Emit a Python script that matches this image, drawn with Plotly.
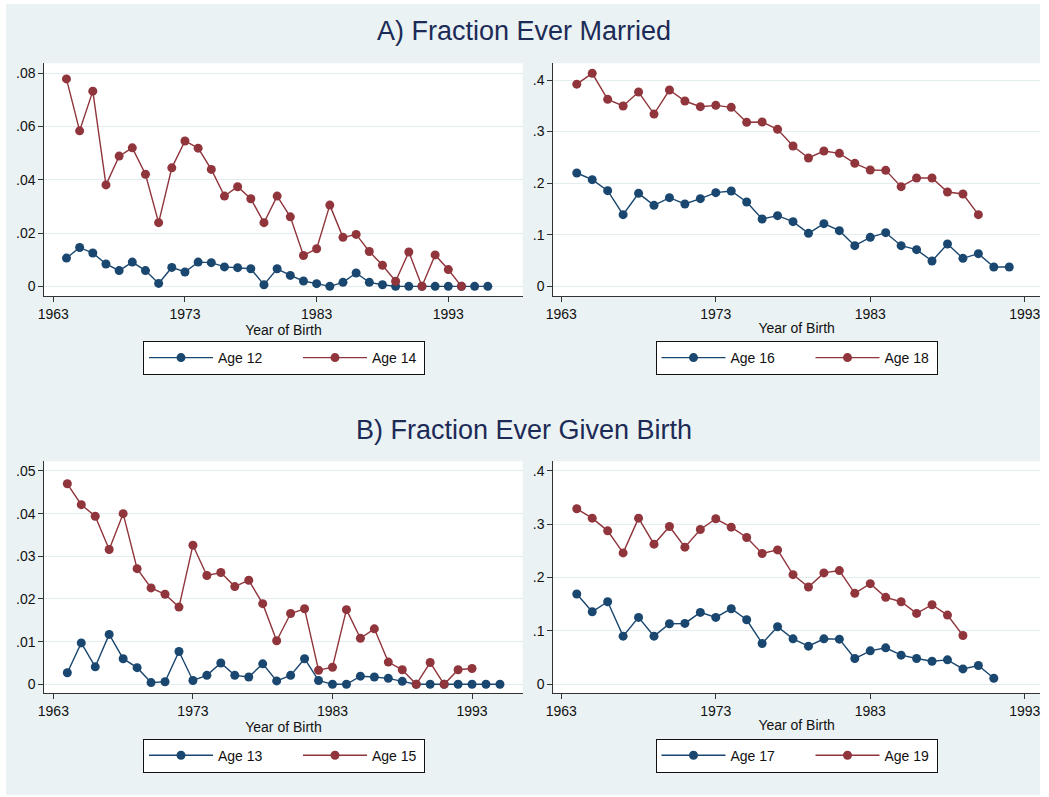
import plotly.graph_objects as go

# ---------------- data ----------------
birth_years = [1964, 1965, 1966, 1967, 1968, 1969, 1970, 1971, 1972, 1973,
               1974, 1975, 1976, 1977, 1978, 1979, 1980, 1981, 1982, 1983,
               1984, 1985, 1986, 1987, 1988, 1989, 1990, 1991, 1992, 1993,
               1994, 1995, 1996]

# Panel A: Fraction ever married
married_age12 = [0.0106, 0.0146, 0.0125, 0.0084, 0.0059, 0.0091, 0.0059, 0.0011, 0.0071, 0.0054,
                 0.0091, 0.0089, 0.0073, 0.0070, 0.0066, 0.0006, 0.0066, 0.0041, 0.0020, 0.0010,
                 0.0000, 0.0015, 0.0050, 0.0015, 0.0006, 0.0, 0.0, 0.0, 0.0, 0.0,
                 0.0, 0.0, 0.0]
married_age14 = [0.0779, 0.0584, 0.0733, 0.0381, 0.0489, 0.0520, 0.0421, 0.0239, 0.0445, 0.0546,
                 0.0519, 0.0439, 0.0339, 0.0374, 0.0329, 0.0239, 0.0339, 0.0261, 0.0116, 0.0141,
                 0.0305, 0.0184, 0.0195, 0.0131, 0.0079, 0.0019, 0.0129, 0.0, 0.0118, 0.0063,
                 0.0]
married_age16 = [0.2197, 0.2068, 0.1855, 0.1389, 0.1803, 0.1570, 0.1719, 0.1596, 0.1700, 0.1816,
                 0.1848, 0.1635, 0.1305, 0.1370, 0.1254, 0.1027, 0.1215, 0.1079, 0.0788, 0.0950,
                 0.1040, 0.0788, 0.0711, 0.0491, 0.0821, 0.0543, 0.0633, 0.0375, 0.0375]
married_age18 = [0.3920, 0.4130, 0.3625, 0.3496, 0.3767, 0.3340, 0.3806, 0.3593, 0.3483, 0.3509,
                 0.3470, 0.3180, 0.3186, 0.3044, 0.2720, 0.2488, 0.2624, 0.2578, 0.2385, 0.2255,
                 0.2249, 0.1932, 0.2100, 0.2100, 0.1829, 0.1790, 0.1389]

# Panel B: Fraction ever given birth
birth_age13 = [0.0027, 0.0097, 0.0041, 0.0117, 0.0060, 0.0039, 0.0004, 0.0006, 0.0077, 0.0009,
               0.0021, 0.0050, 0.0021, 0.0017, 0.0048, 0.0008, 0.0021, 0.0060, 0.0009, 0.0,
               0.0, 0.0019, 0.0017, 0.0014, 0.0007, 0.0, 0.0, 0.0, 0.0, 0.0,
               0.0, 0.0]
birth_age15 = [0.0470, 0.0421, 0.0394, 0.0316, 0.0400, 0.0271, 0.0226, 0.0211, 0.0181, 0.0326,
               0.0255, 0.0262, 0.0229, 0.0244, 0.0189, 0.0102, 0.0166, 0.0177, 0.0033, 0.0040,
               0.0175, 0.0108, 0.0130, 0.0052, 0.0034, 0.0, 0.0051, 0.0, 0.0034, 0.0037]
birth_age17 = [0.1690, 0.1358, 0.1546, 0.0901, 0.1252, 0.0901, 0.1133, 0.1139, 0.1346, 0.1252,
               0.1415, 0.1208, 0.0764, 0.1077, 0.0851, 0.0714, 0.0851, 0.0845, 0.0482, 0.0626,
               0.0682, 0.0545, 0.0482, 0.0432, 0.0457, 0.0288, 0.0351, 0.0113]
birth_age19 = [0.3286, 0.3111, 0.2873, 0.2460, 0.3111, 0.2623, 0.2955, 0.2567, 0.2898, 0.3099,
               0.2942, 0.2748, 0.2448, 0.2516, 0.2053, 0.1822, 0.2085, 0.2128, 0.1703, 0.1884,
               0.1628, 0.1546, 0.1327, 0.1490, 0.1296, 0.0914]

x_tick_vals = [1963, 1973, 1983, 1993]
x_tick_text = ["1963", "1973", "1983", "1993"]
y_ticks_a_left = [0, 0.02, 0.04, 0.06, 0.08]
y_text_a_left = ["0", ".02", ".04", ".06", ".08"]
y_ticks_right = [0, 0.1, 0.2, 0.3, 0.4]
y_text_right = ["0", ".1", ".2", ".3", ".4"]
y_ticks_b_left = [0, 0.01, 0.02, 0.03, 0.04, 0.05]
y_text_b_left = ["0", ".01", ".02", ".03", ".04", ".05"]

title_a = "A) Fraction Ever Married"
title_b = "B) Fraction Ever Given Birth"
x_title = "Year of Birth"

# ---------------- styling ----------------
W, H = 1049, 797
NAVY = "#1A476F"
MAROON = "#90353B"
BG = "#EAF2F3"
GRID = "#E3ECEE"
AXIS = "#333333"
TITLE_COLOR = "#1C2B56"
FONT = "Liberation Sans, Arial, Helvetica, sans-serif"
FS = 14


def px_x(p):
    return p / W


def px_y(p):
    return 1 - p / H


fig = go.Figure()

# (values, name, colour, xaxis, yaxis, legend, legend entry width px)
series = [
    (married_age12, "Age 12", NAVY, "x", "y", "legend", 75),
    (married_age14, "Age 14", MAROON, "x", "y", "legend", 47),
    (married_age16, "Age 16", NAVY, "x2", "y2", "legend2", 75),
    (married_age18, "Age 18", MAROON, "x2", "y2", "legend2", 47),
    (birth_age13, "Age 13", NAVY, "x3", "y3", "legend3", 75),
    (birth_age15, "Age 15", MAROON, "x3", "y3", "legend3", 47),
    (birth_age17, "Age 17", NAVY, "x4", "y4", "legend4", 75),
    (birth_age19, "Age 19", MAROON, "x4", "y4", "legend4", 47),
]
for vals, name, color, xa, ya, lg, lw in series:
    fig.add_trace(go.Scatter(
        x=birth_years[:len(vals)], y=vals, name=name, mode="lines+markers",
        line=dict(color=color, width=1.4),
        marker=dict(color=color, size=9, symbol="circle"),
        xaxis=xa, yaxis=ya, legend=lg, showlegend=True, legendwidth=lw,
    ))

left_dom = [px_x(44.3), px_x(522.7)]
right_dom = [px_x(553.3), px_x(1040)]
top_dom = [px_y(296), px_y(63.3)]
bot_dom = [px_y(693.3), px_y(461.3)]

common_x = dict(
    tickmode="array", tickvals=x_tick_vals, ticktext=x_tick_text,
    showline=True, linecolor=AXIS, linewidth=1, ticks="outside", ticklen=5,
    tickcolor=AXIS, tickwidth=1, showgrid=False, zeroline=False,
    tickfont=dict(size=FS, color="#111111", family=FONT),
    title=dict(text=x_title, font=dict(size=FS, color="#111111", family=FONT), standoff=2),
    automargin=False, fixedrange=True,
)
common_y = dict(
    tickmode="array", showline=True, linecolor=AXIS, linewidth=1, ticks="outside",
    ticklen=5, tickcolor=AXIS, tickwidth=1, showgrid=True, gridcolor=GRID, gridwidth=1,
    zeroline=False, tickfont=dict(size=FS, color="#111111", family=FONT),
    automargin=False, fixedrange=True,
)

fig.update_layout(
    xaxis=dict(common_x, domain=left_dom, anchor="y", range=[1962.316, 1998.65]),
    yaxis=dict(common_y, domain=top_dom, anchor="x", range=[-0.00363, 0.08376],
               tickvals=y_ticks_a_left, ticktext=y_text_a_left),
    xaxis2=dict(common_x, domain=right_dom, anchor="y2", range=[1962.48, 1993.99]),
    yaxis2=dict(common_y, domain=top_dom, anchor="x2", range=[-0.01874, 0.4324],
                tickvals=y_ticks_right, ticktext=y_text_right),
    xaxis3=dict(common_x, domain=left_dom, anchor="y3", range=[1962.35, 1996.63]),
    yaxis3=dict(common_y, domain=bot_dom, anchor="x3", range=[-0.00211, 0.05227],
                tickvals=y_ticks_b_left, ticktext=y_text_b_left),
    xaxis4=dict(common_x, domain=right_dom, anchor="y4", range=[1962.48, 1993.99]),
    yaxis4=dict(common_y, domain=bot_dom, anchor="x4", range=[-0.0169, 0.4175],
                tickvals=y_ticks_right, ticktext=y_text_right),
)

legend_common = dict(
    orientation="h", xanchor="center", yanchor="top", bgcolor="white",
    bordercolor="#111111", borderwidth=1, font=dict(size=FS, color="#111111", family=FONT),
    itemwidth=64, tracegroupgap=0,
    itemclick=False, itemdoubleclick=False,
)
fig.update_layout(
    legend=dict(legend_common, x=px_x(284), y=px_y(341)),
    legend2=dict(legend_common, x=px_x(796.5), y=px_y(341)),
    legend3=dict(legend_common, x=px_x(284), y=px_y(738.7)),
    legend4=dict(legend_common, x=px_x(796.5), y=px_y(738.7)),
)

annotations = [
    dict(text=title_a, x=px_x(523.5), y=px_y(31), xref="paper", yref="paper", showarrow=False,
         xanchor="center", yanchor="middle", font=dict(size=27, color=TITLE_COLOR, family=FONT)),
    dict(text=title_b, x=px_x(523.5), y=px_y(430), xref="paper", yref="paper", showarrow=False,
         xanchor="center", yanchor="middle", font=dict(size=27, color=TITLE_COLOR, family=FONT)),
]

shapes = [
    dict(type="rect", xref="paper", yref="paper", x0=0, x1=px_x(6), y0=0, y1=1,
         fillcolor="white", line=dict(width=0), layer="below"),
    dict(type="rect", xref="paper", yref="paper", x0=px_x(1040), x1=1, y0=0, y1=1,
         fillcolor="white", line=dict(width=0), layer="below"),
    dict(type="rect", xref="paper", yref="paper", x0=0, x1=1, y0=px_y(4), y1=1,
         fillcolor="white", line=dict(width=0), layer="below"),
    dict(type="rect", xref="paper", yref="paper", x0=0, x1=1, y0=0, y1=px_y(795),
         fillcolor="white", line=dict(width=0), layer="below"),
]

fig.update_layout(
    template="none",
    width=W, height=H, autosize=False,
    margin=dict(l=0, r=0, t=0, b=0, pad=0),
    paper_bgcolor=BG, plot_bgcolor="white",
    font=dict(family=FONT, size=FS, color="#111111"),
    annotations=annotations, shapes=shapes,
    hovermode=False,
)

fig.write_html(
    "out.html",
    config={"displayModeBar": False, "staticPlot": False},
    post_script="document.body.style.margin='0px';document.body.style.padding='0px';"
                "document.body.style.overflow='hidden';",
)
